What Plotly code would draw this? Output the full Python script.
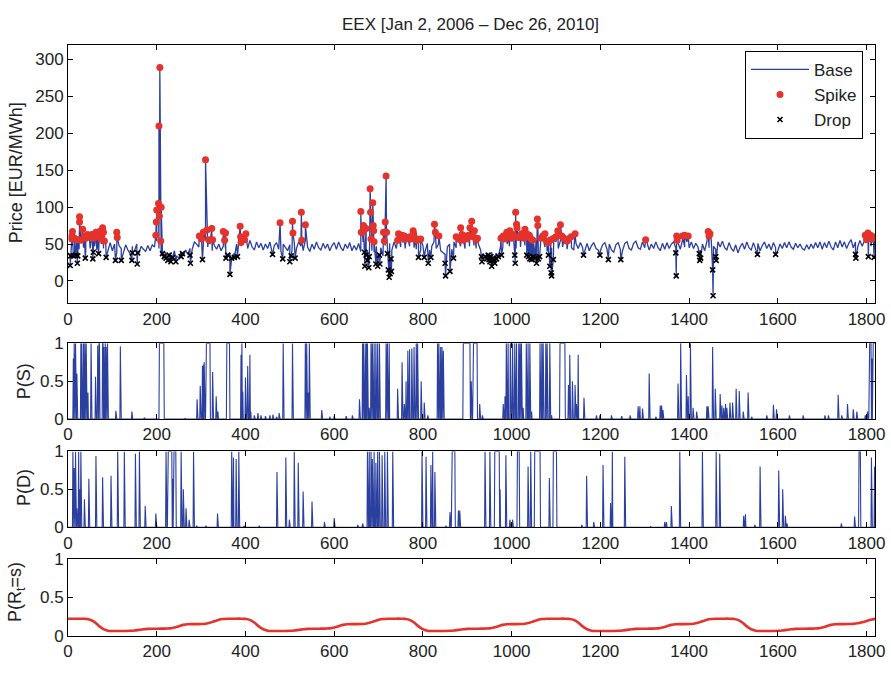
import plotly.graph_objects as go
import numpy as np

# ---------------- data ----------------
# base price, one value every 5 days starting at day 0
base_vals = [
    38, 33, 47, 40, 54, 43, 56, 45, 41, 55, 44, 58, 47, 42, 54, 50, 44, 53, 42, 52,
    41, 50, 39, 48, 44, 38, 49, 42, 37, 47, 41, 50, 38, 47, 43, 40, 48, 41, 49, 46,
    54, 44, 35, 31, 39, 30, 38, 33, 41, 34, 31, 39, 34, 42, 36, 44, 43, 53, 50, 46,
    58, 48, 55, 46, 50, 41, 48, 43, 50, 41, 47, 44, 33, 38, 31, 38, 50, 55, 47, 54,
    52, 44, 55, 46, 42, 53, 45, 51, 42, 50, 44, 53, 41, 48, 52, 43, 40, 50, 45, 41,
    49, 42, 52, 44, 53, 47, 41, 55, 46, 40, 50, 43, 53, 45, 42, 51, 44, 50, 41, 48,
    52, 43, 53, 45, 41, 50, 44, 52, 41, 48, 42, 51, 40, 53, 46, 42, 51, 41, 39, 47,
    37, 45, 34, 48, 40, 51, 42, 53, 44, 55, 46, 52, 44, 54, 47, 55, 45, 43, 53, 42,
    48, 40, 51, 42, 47, 53, 44, 50, 41, 39, 36, 46, 50, 43, 53, 45, 55, 47, 52, 44,
    55, 47, 56, 48, 44, 50, 42, 37, 34, 38, 31, 39, 33, 38, 37, 47, 45, 53, 50, 47,
    56, 48, 44, 55, 46, 57, 48, 43, 54, 42, 50, 55, 44, 52, 56, 46, 40, 35, 45, 50,
    53, 44, 55, 46, 52, 43, 51, 45, 42, 51, 44, 52, 45, 42, 51, 41, 48, 52, 44, 42,
    41, 49, 52, 43, 50, 42, 39, 49, 52, 43, 41, 51, 53, 44, 42, 51, 54, 45, 43, 53,
    45, 52, 42, 50, 44, 53, 45, 41, 51, 43, 52, 44, 50, 53, 45, 52, 43, 55, 46, 53,
    45, 53, 44, 51, 46, 42, 50, 41, 53, 45, 55, 47, 43, 53, 46, 54, 45, 42, 52, 44,
    40, 49, 38, 46, 51, 43, 53, 45, 42, 52, 44, 51, 41, 48, 53, 44, 50, 42, 52, 45,
    41, 50, 44, 52, 45, 53, 46, 43, 51, 45, 50, 44, 42, 49, 43, 50, 44, 52, 45, 53,
    43, 52, 45, 54, 46, 42, 53, 45, 55, 46, 53, 44, 51, 56, 45, 53, 46, 55, 47, 54,
    52, 57, 47, 55,
]

spikes = [
    (9, 57), (9, 61), (10, 67), (15, 58), (23, 56), (26, 80), (26, 87), (29, 55), (33, 70),
    (37, 61), (40, 58), (44, 63), (48, 60), (54, 63), (58, 58), (63, 66), (67, 61), (71, 67),
    (74, 57), (76, 60), (78, 72), (80, 66), (82, 54), (110, 66), (111, 59),
    (198, 62), (199, 80), (200, 96), (204, 105), (205, 210), (206, 88), (207, 289), (209, 54), (210, 100),
    (296, 61), (301, 57), (305, 66), (310, 164), (313, 69), (317, 56), (324, 71), (326, 56),
    (350, 67), (353, 55), (355, 65), (388, 74), (389, 60), (390, 52), (398, 56), (401, 64),
    (478, 79), (506, 81), (507, 65), (526, 93), (527, 55), (535, 76),
    (660, 94), (661, 66), (664, 66), (666, 75), (672, 71), (681, 125), (682, 93), (683, 57),
    (687, 106), (688, 75), (689, 68), (690, 53), (711, 66), (713, 54), (715, 80), (717, 142), (718, 66),
    (743, 55), (745, 64), (750, 58), (753, 62), (758, 61), (762, 57), (766, 59), (770, 60),
    (773, 57), (778, 68), (779, 64), (783, 58), (786, 55), (790, 56), (795, 57),
    (826, 77), (828, 66), (836, 61), (875, 60), (880, 57), (885, 72), (886, 55), (888, 63),
    (891, 56), (895, 61), (898, 57), (900, 58), (903, 62), (906, 72), (910, 81), (913, 60),
    (916, 68), (920, 56), (923, 58),
    (976, 58), (981, 61), (985, 57), (989, 66), (993, 60), (996, 68), (1000, 58), (1004, 63),
    (1009, 93), (1011, 77), (1012, 72), (1015, 59), (1019, 61), (1022, 64), (1025, 60),
    (1028, 58), (1030, 70), (1034, 64), (1036, 60), (1040, 62), (1044, 57), (1048, 55),
    (1058, 84), (1059, 75), (1066, 58), (1070, 61), (1075, 64), (1079, 54), (1083, 52),
    (1088, 56), (1095, 58), (1100, 60), (1104, 68), (1110, 76), (1113, 61), (1118, 58),
    (1124, 54), (1128, 57), (1134, 60), (1143, 64),
    (1302, 56), (1372, 61), (1373, 55), (1385, 61), (1390, 62), (1398, 61),
    (1443, 67), (1445, 61), (1447, 64),
    (1797, 62), (1800, 56), (1803, 65), (1806, 60), (1809, 62), (1812, 57), (1815, 60), (1818, 59),
]

drops = [
    (5, 21), (6, 34), (12, 34), (18, 35), (21, 24), (22, 34), (39, 31), (56, 30), (57, 39),
    (69, 37), (86, 32), (107, 28), (120, 28), (144, 28), (145, 38), (156, 23), (157, 38),
    (213, 37), (217, 33), (221, 31), (225, 28), (228, 35), (232, 26), (236, 32), (243, 26),
    (255, 33), (258, 37), (275, 35), (276, 24), (303, 29),
    (356, 31), (360, 35), (365, 9), (369, 31), (375, 32), (382, 33),
    (461, 36), (484, 30), (500, 26), (503, 34), (512, 31),
    (668, 39), (669, 20), (672, 35), (675, 28), (678, 18), (679, 33), (694, 23), (698, 20),
    (702, 35), (703, 23), (720, 37), (722, 15), (724, 5), (726, 10), (728, 30), (729, 13),
    (790, 32), (803, 32), (812, 24), (818, 32), (850, 24), (851, 7), (861, 13), (869, 31),
    (932, 33), (933, 26), (940, 33), (944, 30), (947, 35), (949, 29), (951, 26), (953, 33),
    (955, 20), (958, 31), (960, 28), (962, 24), (966, 30), (970, 33), (977, 35),
    (1007, 35), (1008, 24), (1034, 35), (1038, 33), (1041, 30), (1045, 29), (1049, 33),
    (1053, 31), (1056, 24), (1060, 30), (1063, 33), (1083, 35), (1086, 20), (1089, 11),
    (1090, 7), (1094, 29), (1162, 35), (1199, 35), (1218, 29), (1246, 29),
    (1370, 38), (1371, 7), (1423, 37), (1424, 28), (1426, 31), (1453, 15), (1454, -20),
    (1460, 33), (1461, 28), (1554, 36), (1595, 36), (1775, 36), (1776, 31), (1804, 33), (1817, 32),
]

# P(S): isolated values (day, prob) and plateaus at 1 (start, end)
ps_events = [
    (12, 0.8), (14, 1), (17, 1), (20, 0.6), (29, 1), (31, 1), (35, 1), (38, 1), (41, 1), (45, 0.35),
    (52, 1), (62, 0.56), (67, 0.97), (70, 1), (71, 1), (78, 1), (79, 1), (81, 0.95), (84, 1),
    (86, 0.95), (89, 1), (108, 0.11), (118, 0.96), (144, 0.1), (172, 0.02), (264, 0.01),
    (291, 0.26), (298, 0.44), (303, 0.7), (305, 0.72), (307, 0.75), (315, 0.22), (326, 0.62),
    (334, 0.3), (338, 0.1), (390, 0.85), (392, 1), (394, 0.36), (400, 0.55), (405, 0.7),
    (410, 0.85), (412, 0.1), (420, 0.05), (428, 0.08), (435, 0.05), (445, 0.04), (455, 0.05),
    (462, 0.06), (470, 0.03), (476, 0.08), (485, 1), (506, 1), (535, 1), (538, 1), (541, 0.35),
    (544, 1), (572, 0.12), (590, 0.03), (600, 0.04), (627, 0.04), (641, 0.05), (657, 0.26),
    (664, 1), (666, 1), (670, 1), (673, 1), (675, 1), (679, 0.15), (683, 1), (686, 1), (690, 1),
    (694, 1), (698, 1), (702, 1), (717, 1), (720, 1), (724, 1), (743, 0.4), (753, 0.75),
    (758, 0.2), (762, 0.5), (766, 0.9), (770, 0.92), (775, 0.93), (780, 0.95), (785, 1),
    (788, 1), (796, 0.5), (803, 0.22), (811, 0.05), (833, 1), (836, 1), (840, 0.95), (843, 0.95),
    (846, 0.9), (909, 0.5), (928, 0.2), (934, 0.05), (981, 0.2), (985, 0.3), (988, 1), (992, 1),
    (997, 1), (1002, 1), (1007, 1), (1011, 1), (1016, 1), (1019, 1), (1022, 1), (1026, 0.15),
    (1033, 1), (1037, 1), (1041, 1), (1045, 0.1), (1064, 1), (1068, 1), (1071, 1), (1077, 1),
    (1080, 1), (1086, 1), (1090, 0.05), (1128, 0.45), (1131, 0.85), (1137, 0.5), (1143, 0.45),
    (1146, 0.2), (1150, 0.85), (1163, 0.28), (1191, 0.05), (1199, 0.05), (1225, 0.05),
    (1248, 0.04), (1267, 0.05), (1285, 0.17), (1289, 0.17), (1295, 0.14), (1310, 0.6),
    (1325, 0.03), (1335, 0.18), (1338, 0.18), (1341, 0.12), (1375, 0.47), (1381, 1),
    (1394, 0.58), (1398, 0.3), (1403, 1), (1409, 0.15), (1417, 0.1), (1440, 0.17), (1443, 0.17),
    (1453, 0.95), (1459, 0.4), (1470, 0.33), (1474, 0.18), (1478, 0.15), (1482, 0.2),
    (1485, 0.15), (1492, 0.22), (1498, 0.22), (1506, 0.4), (1513, 0.37), (1522, 0.1),
    (1533, 0.35), (1541, 0.03), (1575, 0.05), (1590, 0.19), (1597, 0.13), (1626, 0.05),
    (1657, 0.05), (1706, 0.05), (1714, 0.05), (1736, 0.32), (1744, 0.05), (1757, 0.2),
    (1770, 0.13), (1778, 0.1), (1797, 0.05), (1802, 0.1), (1812, 0.8),
]
ps_plateaus = [(206, 216), (311, 320), (358, 364), (891, 906), (913, 922), (1109, 1120),
               (1806, 1810), (1814, 1819)]

pd_events = [
    (11, 1), (14, 0.78), (17, 1), (20, 0.25), (24, 1), (27, 0.5), (29, 1), (37, 0.37), (47, 0.64),
    (63, 0.94), (78, 0.66), (97, 0.68), (112, 1), (127, 1), (152, 0.97), (161, 1), (174, 0.28),
    (198, 0.18), (221, 1), (236, 0.64), (255, 1), (260, 0.5), (266, 0.25), (273, 0.1), (283, 1),
    (290, 0.02), (311, 0.02), (337, 0.18), (369, 1), (373, 0.92), (379, 0.9), (385, 1),
    (397, 0.02), (431, 0.02), (471, 0.73), (491, 0.92), (499, 0.1), (510, 1), (519, 0.85),
    (530, 0.47), (550, 0.34), (578, 0.07), (600, 0.12), (653, 0.03), (664, 0.05), (675, 1),
    (679, 1), (683, 1), (686, 0.9), (690, 1), (694, 0.85), (698, 1), (702, 1), (708, 0.95),
    (714, 1), (720, 1), (732, 1), (798, 1), (807, 0.93), (818, 0.82), (822, 1), (827, 0.73),
    (852, 0.02), (861, 0.2), (880, 0.22), (883, 0.22), (940, 1), (951, 1), (974, 0.5),
    (987, 0.95), (996, 0.1), (1002, 0.1), (1037, 0.8), (1043, 1), (1085, 0.65), (1158, 0.03),
    (1169, 0.68), (1185, 0.07), (1206, 0.82), (1223, 0.32), (1227, 1), (1255, 0.93),
    (1313, 0.01), (1345, 0.07), (1349, 0.07), (1360, 0.28), (1379, 1), (1430, 1), (1461, 1),
    (1469, 0.97), (1523, 0.15), (1527, 0.17), (1548, 0.03), (1560, 0.8), (1602, 0.75),
    (1611, 0.5), (1617, 0.15), (1621, 0.05), (1743, 0.05), (1773, 0.14), (1811, 0.92), (1818, 0.8),
]
pd_plateaus = [(225, 234), (238, 243), (865, 872), (962, 972), (1013, 1017), (1052, 1064),
               (1094, 1101), (1783, 1786)]

# P(R_t = s), one value every 10 days from day 0
pr_vals = [
    .225, .225, .225, .224, .222, .210, .180, .130, .090, .070, .065, .065, .065, .066, .068, .072, .080, .088, .093, .095,
    .095, .096, .097, .100, .110, .128, .145, .153, .155, .155, .156, .160, .172, .192, .210, .220, .224, .225, .225, .225,
    .222, .210, .175, .125, .088, .070, .065, .065, .065, .066, .068, .072, .080, .088, .093, .095, .095, .096, .097, .100,
    .110, .128, .145, .153, .155, .155, .156, .160, .172, .192, .210, .220, .224, .225, .225, .225, .222, .210, .175, .125,
    .088, .070, .065, .065, .065, .066, .068, .072, .080, .088, .093, .095, .095, .096, .097, .100, .110, .128, .145, .153,
    .155, .155, .156, .160, .172, .192, .210, .220, .224, .225, .225, .225, .225, .222, .210, .175, .125, .088, .070, .065,
    .065, .065, .065, .066, .068, .072, .080, .088, .093, .095, .095, .096, .097, .100, .110, .128, .145, .153, .155, .155,
    .156, .160, .172, .192, .210, .220, .224, .225, .225, .225, .222, .210, .175, .125, .088, .070, .065, .065, .065, .066,
    .068, .072, .080, .088, .093, .095, .095, .096, .097, .100, .110, .128, .145, .153, .155, .155, .156, .158, .165, .178,
    .195, .212, .224,
]

N_DAYS = 1820
x_ticks = [0, 200, 400, 600, 800, 1000, 1200, 1400, 1600, 1800]

# ---------------- assemble traces ----------------
base_days = [5 * i for i in range(len(base_vals))]
pts = sorted(list(zip(base_days, base_vals)) + spikes + drops, key=lambda p: p[0])
line_x = [p[0] for p in pts]
line_y = [p[1] for p in pts]


def daily(events, plateaus):
    arr = np.zeros(N_DAYS)
    for d, v in events:
        arr[d] = v
    for a, b in plateaus:
        arr[a:b + 1] = 1.0
    return arr


ps = daily(ps_events, ps_plateaus)
pdd = daily(pd_events, pd_plateaus)
days = np.arange(N_DAYS)
pr_days = [10 * i for i in range(len(pr_vals))]

BLUE = "#2b3f9f"
RED = "#e5322b"
FONT = "Liberation Sans, Arial, Helvetica, sans-serif"

fig = go.Figure()
fig.add_trace(go.Scatter(x=line_x, y=line_y, mode="lines", name="Base",
                         line=dict(color=BLUE, width=1.3), xaxis="x", yaxis="y"))
fig.add_trace(go.Scatter(x=[s[0] for s in spikes], y=[s[1] for s in spikes], mode="markers",
                         name="Spike", marker=dict(color=RED, size=7, symbol="circle"),
                         xaxis="x", yaxis="y"))
fig.add_trace(go.Scatter(x=[d[0] for d in drops], y=[d[1] for d in drops], mode="markers",
                         name="Drop",
                         marker=dict(color="black", size=5, symbol="x-thin",
                                     line=dict(color="black", width=1.6)),
                         xaxis="x", yaxis="y"))
fig.add_trace(go.Scatter(x=days, y=ps, mode="lines", showlegend=False,
                         line=dict(color=BLUE, width=1.1), xaxis="x2", yaxis="y2"))
fig.add_trace(go.Scatter(x=days, y=pdd, mode="lines", showlegend=False,
                         line=dict(color=BLUE, width=1.1), xaxis="x3", yaxis="y3"))
fig.add_trace(go.Scatter(x=pr_days, y=pr_vals, mode="lines", showlegend=False,
                         line=dict(color=RED, width=2.6, shape="spline"), xaxis="x4", yaxis="y4"))

W, H = 891, 673
L, R = 68, 875


def ydom(top_px, bot_px):
    return [1 - bot_px / H, 1 - top_px / H]


AX = dict(showline=True, linecolor="black", linewidth=1, mirror="ticks", ticks="inside",
          ticklen=5, tickcolor="black", showgrid=False, zeroline=False,
          tickfont=dict(size=17, color="#222", family=FONT))

xcommon = dict(AX, range=[0, 1819], tickvals=x_ticks)
fig.update_layout(
    width=W, height=H,
    margin=dict(l=L, r=W - R, t=0, b=0),
    paper_bgcolor="white", plot_bgcolor="white",
    font=dict(family=FONT, color="#222"),
    xaxis=dict(xcommon, anchor="y"),
    xaxis2=dict(xcommon, anchor="y2"),
    xaxis3=dict(xcommon, anchor="y3"),
    xaxis4=dict(xcommon, anchor="y4"),
    yaxis=dict(AX, domain=ydom(36.7, 302.7), range=[-30, 320], tickvals=[0, 50, 100, 150, 200, 250, 300]),
    yaxis2=dict(AX, domain=ydom(344, 422), range=[0, 1], tickvals=[0, 0.5, 1]),
    yaxis3=dict(AX, domain=ydom(455.3, 533.3), range=[0, 1], tickvals=[0, 0.5, 1]),
    yaxis4=dict(AX, domain=ydom(565.7, 645.3), range=[0, 1], tickvals=[0, 0.5, 1]),
    showlegend=True,
    legend=dict(x=(745 - L) / (R - L), y=1 - 43 / H, xanchor="left", yanchor="top",
                bordercolor="black", borderwidth=1, bgcolor="white", itemwidth=58,
                font=dict(size=17, color="#222", family=FONT), tracegroupgap=0),
)


def px_x(px):
    return (px - L) / (R - L)


annots = [
    dict(text="EEX [Jan 2, 2006 – Dec 26, 2010]", x=px_x(470), y=1 - 16 / H, font=dict(size=17)),
    dict(text="Price [EUR/MWh]", x=px_x(16), y=1 - 169 / H, textangle=-90, font=dict(size=18)),
    dict(text="P(S)", x=px_x(24), y=1 - 383 / H, textangle=-90, font=dict(size=18)),
    dict(text="P(D)", x=px_x(24), y=1 - 493 / H, textangle=-90, font=dict(size=18)),
    dict(text="P(R<sub>t</sub>=s)", x=px_x(16), y=1 - 600 / H, textangle=-90, font=dict(size=18)),
]
for a in annots:
    a.update(xref="paper", yref="paper", showarrow=False, xanchor="center", yanchor="middle")
    a["font"].update(family=FONT, color="#222")
fig.update_layout(annotations=annots)

fig.write_html("out.html")
